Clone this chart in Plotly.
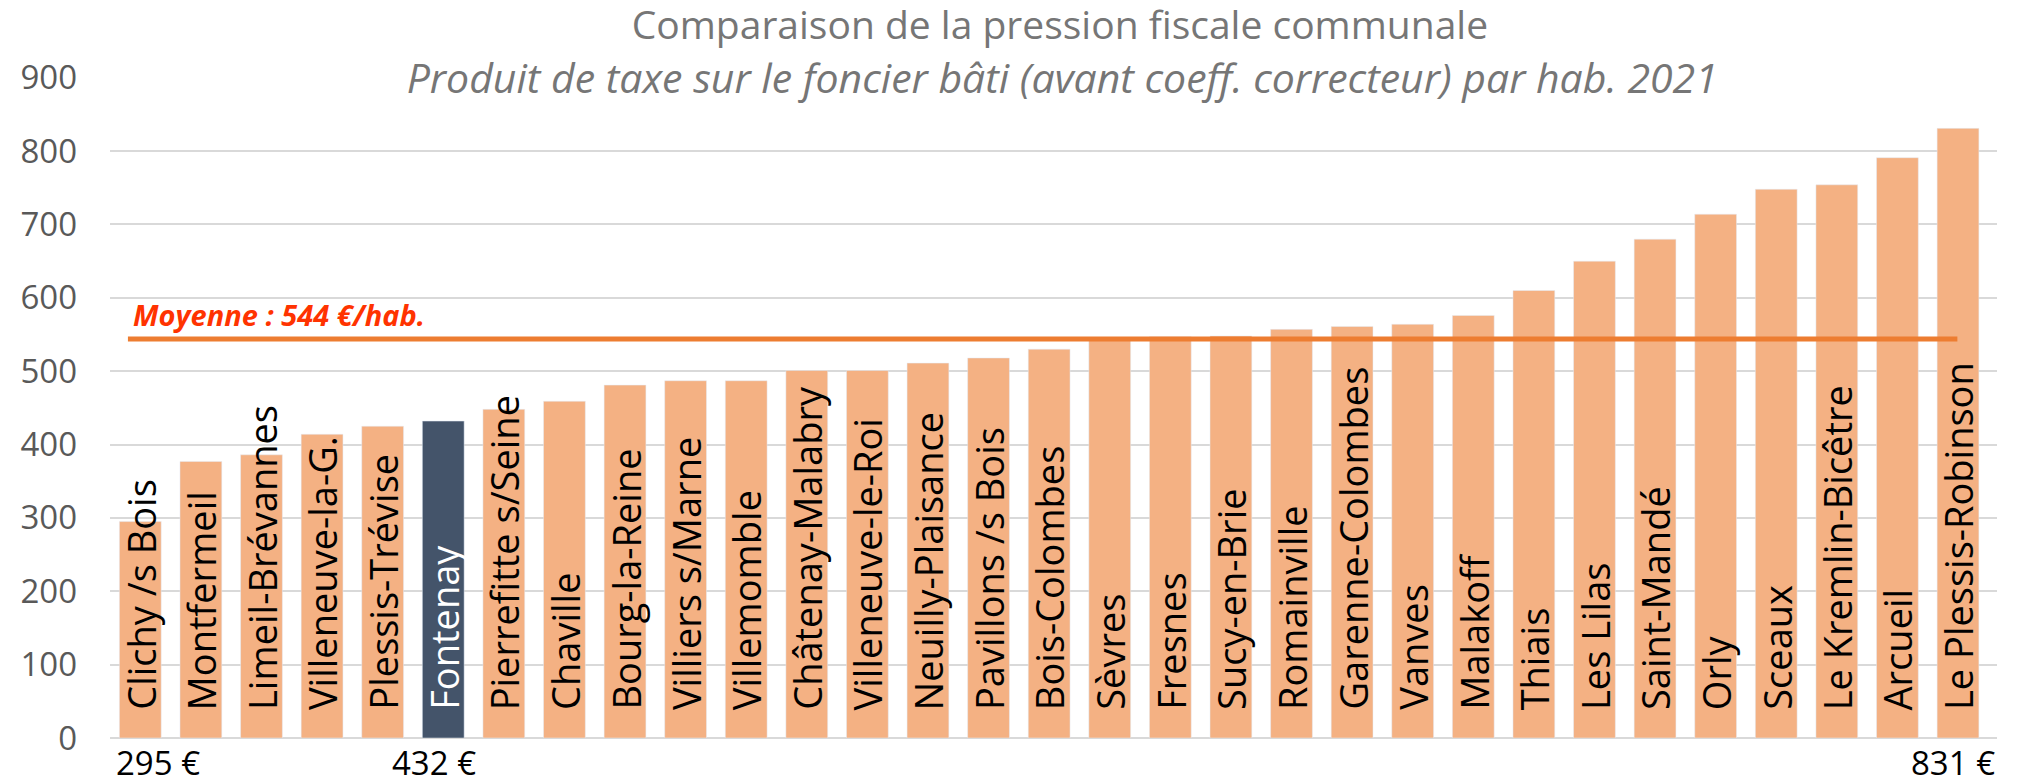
import plotly.graph_objects as go

communes = [
    "Clichy /s Bois", "Montfermeil", "Limeil-Brévannes", "Villeneuve-la-G.",
    "Plessis-Trévise", "Fontenay", "Pierrefitte s/Seine", "Chaville",
    "Bourg-la-Reine", "Villiers s/Marne", "Villemomble", "Châtenay-Malabry",
    "Villeneuve-le-Roi", "Neuilly-Plaisance", "Pavillons /s Bois", "Bois-Colombes",
    "Sèvres", "Fresnes", "Sucy-en-Brie", "Romainville", "Garenne-Colombes",
    "Vanves", "Malakoff", "Thiais", "Les Lilas", "Saint-Mandé", "Orly",
    "Sceaux", "Le Kremlin-Bicêtre", "Arcueil", "Le Plessis-Robinson",
]
produit_par_hab = [
    295, 377, 386, 414, 425, 432, 448, 459, 481, 487, 487, 501, 501, 511, 518, 530,
    545, 547, 548, 557, 561, 564, 576, 610, 650, 680, 714, 748, 754, 791, 831,
]
moyenne = 544
highlight = "Fontenay"
shown_values = ["Clichy /s Bois", "Fontenay", "Le Plessis-Robinson"]

ORANGE_LIGHT = "#F4B183"
DARK = "#44546A"
FONT = "Open Sans"

colors = [DARK if c == highlight else ORANGE_LIGHT for c in communes]

fig = go.Figure()
fig.add_trace(go.Bar(
    x=communes,
    y=produit_par_hab,
    marker_color=colors,
    hoverinfo="x+y",
))

# average line
fig.add_shape(
    type="line", xref="paper", yref="y",
    x0=0.0095, x1=0.979, y0=moyenne, y1=moyenne,
    line=dict(color="#ED7D31", width=5),
)
fig.add_annotation(
    xref="paper", yref="y", x=0.011, y=moyenne,
    xanchor="left", yanchor="middle", yshift=24,
    text="<b><i>Moyenne : %d €/hab.</i></b>" % moyenne,
    showarrow=False,
    font=dict(family=FONT, size=29, color="#FF3300"),
)

# commune names written inside the bars
for c in communes:
    fig.add_annotation(
        x=c, y=0, xref="x", yref="y",
        text=c, textangle=-90,
        xanchor="center", yanchor="bottom", yshift=26,
        showarrow=False,
        font=dict(family=FONT, size=38, color="white" if c == highlight else "black"),
    )

# values under some bars
shifts = [18, -9, -5]
for c, s in zip(shown_values, shifts):
    v = produit_par_hab[communes.index(c)]
    fig.add_annotation(
        x=c, xref="x", yref="paper", y=0,
        text="%d €" % v, xanchor="center", yanchor="middle",
        yshift=-24, xshift=s, showarrow=False,
        font=dict(family="Liberation Sans Narrow, " + FONT, size=33, color="black"),
    )

# subtitle sits on the top gridline (white box hides the line behind it)
fig.add_annotation(
    xref="paper", yref="paper", x=0.5045, y=1,
    xanchor="center", yanchor="middle",
    text="<i>&nbsp;Produit de taxe sur le foncier bâti (avant coeff. correcteur) par hab. 2021&nbsp;</i>",
    showarrow=False, bgcolor="white", borderpad=0,
    font=dict(family=FONT, size=41, color="#767676"),
)

# the page body adds an 8px offset, so the figure is 8px smaller with 8px less margin
fig.update_layout(
    width=2014, height=774,
    margin=dict(l=98, r=25, t=69, b=44),
    paper_bgcolor="white", plot_bgcolor="white",
    bargap=0.31,
    showlegend=False,
    title=dict(
        text="Comparaison de la pression fiscale communale",
        x=0.5223, xanchor="center", y=0.978, yanchor="middle",
        font=dict(family=FONT, size=39, color="#767676"),
    ),
    xaxis=dict(showticklabels=False, showgrid=False, showline=False, ticks=""),
    yaxis=dict(
        range=[0, 901], dtick=100, tick0=0,
        showgrid=True, gridcolor="#D9D9D9", gridwidth=2,
        zeroline=True, zerolinecolor="#D9D9D9", zerolinewidth=2,
        tickfont=dict(family=FONT, size=33, color="#595959"),
        ticklabelstandoff=32,
    ),
)

fig.write_html("out.html")
